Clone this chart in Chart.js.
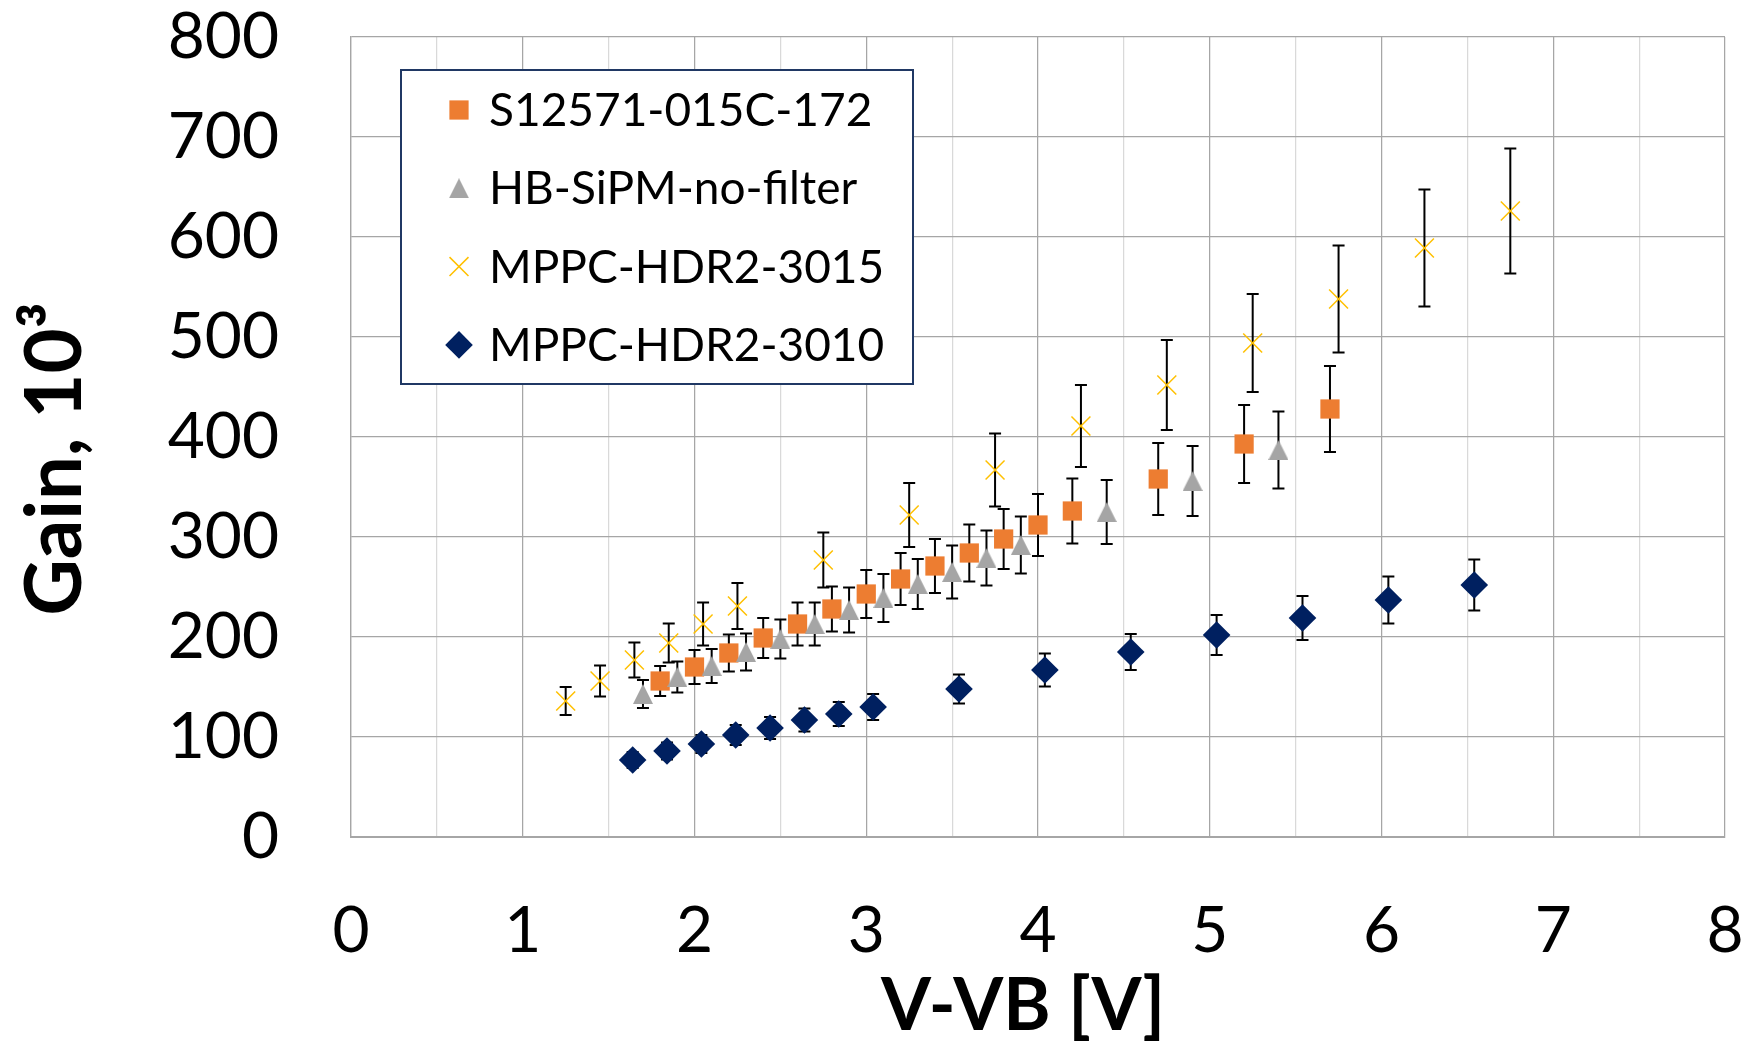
<!DOCTYPE html>
<html>
<head>
<meta charset="utf-8">
<script src="https://cdn.jsdelivr.net/npm/chart.js@4.4.1/dist/chart.umd.min.js"></script>
<style>
  html, body { margin: 0; padding: 0; background: #fff; }
  canvas { display: block; }
</style>
</head>
<body>
<canvas id="chart" width="1747" height="1051"></canvas>
<script>
// values (x in V, gain in 10^3)
const s12571X = [1.8, 2.0, 2.2, 2.4, 2.6, 2.8, 3.0, 3.2, 3.4, 3.6, 3.8, 4.0, 4.2, 4.7, 5.2, 5.7];
const s12571Y = [156, 170, 184, 199, 213, 228, 243, 258, 271, 284, 298, 312, 326, 358, 393, 428];
const s12571Err = [15, 17, 18.5, 20, 21.5, 22.5, 24, 26, 27, 28.5, 30, 31, 32.5, 36, 39, 43];

const hbX = [1.7, 1.9, 2.1, 2.3, 2.5, 2.7, 2.9, 3.1, 3.3, 3.5, 3.7, 3.9, 4.4, 4.9, 5.4];
const hbY = [143, 160, 171, 185, 198, 213, 227, 239, 253, 265, 279, 292, 325, 356, 387];
const hbErr = [14, 15.5, 17, 18.5, 19.5, 21.5, 22.5, 24, 25, 26.5, 27.5, 28.5, 32, 35, 38.5];

const hdr3015X = [1.25, 1.45, 1.65, 1.85, 2.05, 2.25, 2.75, 3.25, 3.75, 4.25, 4.75, 5.25, 5.75, 6.25, 6.75];
const hdr3015Y = [136, 156, 177, 194, 213, 231, 277, 322, 367, 411, 452, 494, 538, 589, 626];
const hdr3015Err = [14, 15.5, 17.5, 19.5, 21.5, 23, 27.5, 32, 36.5, 41, 45, 49, 53.5, 58.5, 62.5];

const hdr3010X = [1.64, 1.84, 2.04, 2.24, 2.44, 2.64, 2.84, 3.04, 3.54, 4.04, 4.54, 5.04, 5.54, 6.04, 6.54];
const hdr3010Y = [77, 86, 93, 102, 109, 117, 123, 130, 148, 167, 185, 202, 219, 237, 252];
const hdr3010Err = [8, 8.5, 9, 10, 11, 11.5, 12, 13, 14.5, 16.5, 18, 20, 22, 23.5, 25.5];

const seriesNames = ['S12571-015C-172', 'HB-SiPM-no-filter', 'MPPC-HDR2-3015', 'MPPC-HDR2-3010'];
const xTitle = 'V-VB [V]';
const yTitle = 'Gain, 10³';

const FONT = 'Lato';
const GRID_MAJOR = '#A6A6A6';
const GRID_MINOR = '#D9D9D9';

function points(xs, ys) {
  return xs.map((x, i) => ({ x: x, y: ys[i] }));
}

// spreadsheet-style triangle: as tall as it is wide, centred on its box
function triangleMarker(size, color) {
  const c = document.createElement('canvas');
  c.width = size;
  c.height = size;
  const g = c.getContext('2d');
  g.fillStyle = color;
  g.beginPath();
  g.moveTo(size / 2, 0);
  g.lineTo(size, size);
  g.lineTo(0, size);
  g.closePath();
  g.fill();
  return c;
}

const errors = [s12571Err, hbErr, hdr3015Err, hdr3010Err];

const errorBars = {
  id: 'errorBars',
  beforeDatasetsDraw(chart) {
    const ctx = chart.ctx;
    const xs = chart.scales.x;
    const ys = chart.scales.y;
    ctx.save();
    ctx.strokeStyle = '#000';
    ctx.lineWidth = 2;
    chart.data.datasets.forEach((ds, d) => {
      ds.data.forEach((p, i) => {
        const e = errors[d][i];
        const px = xs.getPixelForValue(p.x);
        const top = ys.getPixelForValue(p.y + e);
        const bot = ys.getPixelForValue(p.y - e);
        ctx.beginPath();
        ctx.moveTo(px, top);
        ctx.lineTo(px, bot);
        ctx.moveTo(px - 6, top);
        ctx.lineTo(px + 6, top);
        ctx.moveTo(px - 6, bot);
        ctx.lineTo(px + 6, bot);
        ctx.stroke();
      });
    });
    ctx.restore();
  }
};

// framed legend inside the plot, like the spreadsheet one
const boxLegend = {
  id: 'boxLegend',
  afterDraw(chart) {
    const ctx = chart.ctx;
    const area = chart.chartArea;
    const left = area.left + 50;
    const top = area.top + 33;
    ctx.save();
    ctx.fillStyle = '#fff';
    ctx.fillRect(left, top, 512, 314);
    ctx.strokeStyle = '#203864';
    ctx.lineWidth = 2;
    ctx.strokeRect(left, top, 512, 314);
    ctx.font = '46px ' + FONT;
    ctx.textBaseline = 'alphabetic';
    ctx.textAlign = 'left';
    chart.data.datasets.forEach((ds, i) => {
      const base = top + 56 + i * 78.3;
      // drawPoint uses the current fill/stroke, so set them per marker
      ctx.fillStyle = ds.backgroundColor;
      ctx.strokeStyle = ds.borderColor;
      ctx.lineWidth = ds.borderWidth;
      Chart.helpers.drawPoint(ctx, {
        pointStyle: ds.pointStyle,
        radius: ds.pointRadius,
        borderWidth: ds.borderWidth,
        rotation: 0
      }, left + 58, base - 16);
      ctx.fillStyle = '#000';
      ctx.fillText(ds.label, left + 88, base);
    });
    ctx.restore();
  }
};

const axisTitles = {
  id: 'axisTitles',
  afterDraw(chart) {
    const ctx = chart.ctx;
    const area = chart.chartArea;
    ctx.save();
    ctx.fillStyle = '#000';
    ctx.textAlign = 'center';
    ctx.textBaseline = 'alphabetic';
    ctx.font = 'bold 72px ' + FONT;
    ctx.fillText(xTitle, area.left + 672, area.bottom + 193);
    ctx.translate(81, area.top + 422);
    ctx.rotate(-Math.PI / 2);
    ctx.font = 'bold 78px ' + FONT;
    ctx.fillText(yTitle, 0, 0);
    ctx.restore();
  }
};

const tickFont = { family: FONT, size: 64, lineHeight: 1 };

new Chart(document.getElementById('chart'), {
  type: 'scatter',
  data: {
    datasets: [
      {
        label: seriesNames[0],
        data: points(s12571X, s12571Y),
        pointStyle: 'rect',
        pointRadius: 13.6,
        backgroundColor: '#ED7D31',
        borderColor: '#ED7D31',
        borderWidth: 0,
        order: 3
      },
      {
        label: seriesNames[1],
        data: points(hbX, hbY),
        pointStyle: triangleMarker(20, '#A5A5A5'),
        pointRadius: 10,
        backgroundColor: '#A5A5A5',
        borderColor: '#A5A5A5',
        borderWidth: 0,
        order: 2
      },
      {
        label: seriesNames[2],
        data: points(hdr3015X, hdr3015Y),
        pointStyle: 'crossRot',
        pointRadius: 13.4,
        backgroundColor: '#FFC000',
        borderColor: '#FFC000',
        borderWidth: 1.5,
        order: 1
      },
      {
        label: seriesNames[3],
        data: points(hdr3010X, hdr3010Y),
        pointStyle: 'rectRot',
        pointRadius: 13.8,
        backgroundColor: '#002060',
        borderColor: '#002060',
        borderWidth: 0,
        order: 0
      }
    ]
  },
  options: {
    responsive: false,
    animation: false,
    devicePixelRatio: 1,
    layout: { padding: { top: 37, right: 22, left: 0, bottom: 0 } },
    plugins: {
      legend: { display: false },
      tooltip: { enabled: false }
    },
    scales: {
      x: {
        type: 'linear',
        min: 0,
        max: 8,
        afterFit(scale) { scale.height = 214; },
        ticks: {
          stepSize: 0.5,
          autoSkip: false,
          maxRotation: 0,
          padding: 0,
          color: '#000',
          font: tickFont,
          callback: (v) => (Number.isInteger(v) ? String(v) : '')
        },
        grid: {
          drawTicks: true,
          tickLength: 62,
          tickColor: 'rgba(0,0,0,0)',
          lineWidth: 1.25,
          color: (c) => (c.tick && Number.isInteger(c.tick.value) ? GRID_MAJOR : GRID_MINOR)
        },
        border: { color: GRID_MAJOR, width: 2 }
      },
      y: {
        type: 'linear',
        min: 0,
        max: 800,
        afterFit(scale) { scale.width = 351; },
        ticks: {
          stepSize: 100,
          padding: 0,
          color: '#000',
          font: tickFont
        },
        grid: {
          drawTicks: true,
          tickLength: 72,
          tickColor: 'rgba(0,0,0,0)',
          lineWidth: 1.25,
          color: GRID_MAJOR
        },
        border: { color: GRID_MAJOR, width: 1.25 }
      }
    }
  },
  plugins: [errorBars, boxLegend, axisTitles]
});
</script>
</body>
</html>
